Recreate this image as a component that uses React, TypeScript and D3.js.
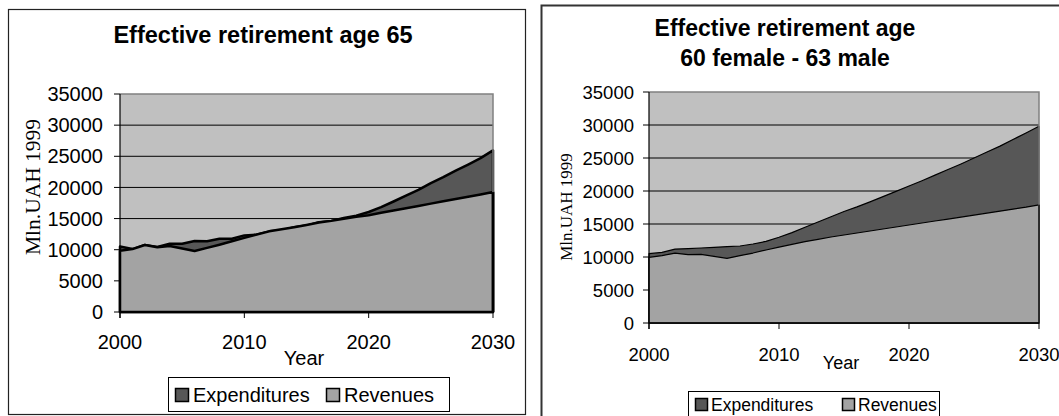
import React from "react";
import * as d3 from "d3";

// ---------- data ----------
const years = [2000, 2001, 2002, 2003, 2004, 2005, 2006, 2007, 2008, 2009, 2010, 2011, 2012, 2013, 2014, 2015, 2016, 2017, 2018, 2019, 2020, 2021, 2022, 2023, 2024, 2025, 2026, 2027, 2028, 2029, 2030];

const expendituresA = [10500, 10100, 10750, 10450, 10950, 10970, 11400, 11350, 11770, 11770, 12300, 12400, 12950, 13100, 13600, 13870, 14400, 14630, 15090, 15470, 16050, 16830, 17740, 18700, 19610, 20680, 21640, 22710, 23680, 24700, 25950];
const revenuesA = [9850, 10100, 10750, 10400, 10600, 10200, 9800, 10290, 10800, 11350, 11900, 12450, 12950, 13300, 13600, 13980, 14370, 14630, 14960, 15280, 15550, 15920, 16290, 16660, 17030, 17400, 17770, 18140, 18510, 18880, 19250];

const expendituresB = [10500, 10700, 11200, 11260, 11360, 11460, 11560, 11670, 11970, 12370, 13000, 13700, 14500, 15300, 16100, 16900, 17600, 18350, 19150, 19950, 20750, 21550, 22400, 23250, 24100, 25000, 25900, 26800, 27800, 28800, 29800];
const revenuesB = [9950, 10200, 10600, 10350, 10400, 10100, 9800, 10200, 10600, 11060, 11500, 11920, 12320, 12680, 13030, 13330, 13640, 13940, 14240, 14550, 14850, 15150, 15450, 15750, 16050, 16350, 16650, 16950, 17250, 17550, 17900];

const yTicks = [0, 5000, 10000, 15000, 20000, 25000, 30000, 35000];
const xTicks = [2000, 2010, 2020, 2030];
const seriesNames = ["Expenditures", "Revenues"];
const titleA = ["Effective retirement age 65"];
const titleB = ["Effective retirement age", "60 female - 63 male"];
const yLabel = "Mln.UAH 1999";
const xLabel = "Year";

// ---------- styles ----------
const SANS = "'Liberation Sans', Arial, sans-serif";
const SERIF = "'Liberation Serif', 'Times New Roman', serif";
const C_BG = "#c0c0c0";
const C_EXP = "#575757";
const C_REV = "#a3a3a3";

type Layout = {
  box: [number, number, number, number];
  plot: { l: number; r: number; t: number; b: number };
  titleX: number;
  titleY: number[];
  titleSize: number;
  tickSize: number;
  tickLabelX: number;
  xLabelBaseline: number;
  yLab: { x: number; y: number; size: number };
  xLab: { x: number; y: number; size: number };
  legend: { x: number; y: number; w: number; h: number; size: number; sq: number; items: number[]; baseline: number; gap: number };
  lineW: number;
  boxStroke: string;
  boxW: number;
};

const layoutA: Layout = {
  box: [8.5, 9.5, 517, 405],
  plot: { l: 120, r: 493, t: 94, b: 312 },
  titleX: 263,
  titleY: [43],
  titleSize: 23.5,
  tickSize: 20,
  tickLabelX: 103,
  xLabelBaseline: 349,
  yLab: { x: 32, y: 187, size: 21.5 },
  xLab: { x: 304, y: 365, size: 20 },
  legend: { x: 168.5, y: 377.5, w: 281, h: 34, size: 20, sq: 13, items: [175, 326], baseline: 402, gap: 5 },
  lineW: 2.5,
  boxStroke: "#222",
  boxW: 1.2,
};

const layoutB: Layout = {
  box: [541.5, 5.5, 530, 420],
  plot: { l: 649, r: 1039, t: 92, b: 323 },
  titleX: 785,
  titleY: [36, 66],
  titleSize: 23,
  tickSize: 18.5,
  tickLabelX: 634,
  xLabelBaseline: 361,
  yLab: { x: 566, y: 207, size: 17 },
  xLab: { x: 841, y: 369, size: 18 },
  legend: { x: 688.5, y: 391.5, w: 251, h: 34, size: 17.5, sq: 12, items: [695, 842], baseline: 411, gap: 4 },
  lineW: 1.2,
  boxStroke: "#333",
  boxW: 2,
};

function Panel({ L, exp, rev, title }: { L: Layout; exp: number[]; rev: number[]; title: string[] }) {
  const { plot } = L;
  const x = d3.scaleLinear().domain([2000, 2030]).range([plot.l, plot.r]);
  const y = d3.scaleLinear().domain([0, 35000]).range([plot.b, plot.t]);
  const area = d3
    .area<number>()
    .x((_, i) => x(years[i]))
    .y0(y(0))
    .y1((d) => y(d));
  const colors = [C_EXP, C_REV];
  return (
    <g>
      <rect x={L.box[0]} y={L.box[1]} width={L.box[2]} height={L.box[3]} fill="#fff" stroke={L.boxStroke} strokeWidth={L.boxW} />
      {title.map((t, i) => (
        <text key={i} x={L.titleX} y={L.titleY[i]} textAnchor="middle" fontFamily={SANS} fontWeight="bold" fontSize={L.titleSize} fill="#000">
          {t}
        </text>
      ))}
      <rect x={plot.l} y={plot.t} width={plot.r - plot.l} height={plot.b - plot.t} fill={C_BG} />
      {yTicks.slice(1, -1).map((v) => (
        <line key={v} x1={plot.l} x2={plot.r} y1={y(v)} y2={y(v)} stroke="#000" strokeWidth={1} />
      ))}
      <path d={area(exp) || ""} fill={C_EXP} stroke="#000" strokeWidth={L.lineW} strokeLinejoin="round" />
      <path d={area(rev) || ""} fill={C_REV} stroke="#000" strokeWidth={L.lineW} strokeLinejoin="round" />
      <polyline points={`${plot.l},${plot.t} ${plot.r},${plot.t} ${plot.r},${plot.b}`} fill="none" stroke="#808080" strokeWidth={1.5} />
      <line x1={plot.r} x2={plot.r} y1={y(rev[rev.length - 1])} y2={plot.b} stroke="#000" strokeWidth={L.lineW} />
      <line x1={plot.l} x2={plot.l} y1={plot.t} y2={plot.b + 6} stroke="#000" strokeWidth={1.2} />
      <line x1={plot.l} x2={plot.r} y1={plot.b} y2={plot.b} stroke="#000" strokeWidth={1.5} />
      {yTicks.map((v) => (
        <g key={v}>
          <line x1={plot.l - 6} x2={plot.l} y1={y(v)} y2={y(v)} stroke="#000" strokeWidth={1} />
          <text x={L.tickLabelX} y={y(v)} dy="0.36em" textAnchor="end" fontFamily={SANS} fontSize={L.tickSize} fill="#000">
            {v}
          </text>
        </g>
      ))}
      {xTicks.map((v) => (
        <g key={v}>
          <line x1={x(v)} x2={x(v)} y1={plot.b} y2={plot.b + 6} stroke="#000" strokeWidth={1} />
          <text x={x(v)} y={L.xLabelBaseline} textAnchor="middle" fontFamily={SANS} fontSize={L.tickSize} fill="#000">
            {v}
          </text>
        </g>
      ))}
      <text transform={`translate(${L.yLab.x},${L.yLab.y}) rotate(-90)`} textAnchor="middle" dy="0.35em" fontFamily={SERIF} fontSize={L.yLab.size} fill="#000">
        {yLabel}
      </text>
      <text x={L.xLab.x} y={L.xLab.y} textAnchor="middle" fontFamily={SANS} fontSize={L.xLab.size} fill="#000">
        {xLabel}
      </text>
      <rect x={L.legend.x} y={L.legend.y} width={L.legend.w} height={L.legend.h} fill="#fff" stroke="#000" strokeWidth={1} />
      {seriesNames.map((name, i) => (
        <g key={name}>
          <rect
            x={L.legend.items[i] + 0.5}
            y={L.legend.baseline - L.legend.sq - 0.5}
            width={L.legend.sq}
            height={L.legend.sq}
            fill={colors[i]}
            stroke="#000"
            strokeWidth={1.5}
          />
          <text x={L.legend.items[i] + L.legend.sq + L.legend.gap} y={L.legend.baseline} fontFamily={SANS} fontSize={L.legend.size} fill="#000">
            {name}
          </text>
        </g>
      ))}
    </g>
  );
}

export default function App() {
  return (
    <svg width={1059} height={416} style={{ position: "absolute", left: 0, top: 0, background: "#fff" }}>
      <Panel L={layoutA} exp={expendituresA} rev={revenuesA} title={titleA} />
      <Panel L={layoutB} exp={expendituresB} rev={revenuesB} title={titleB} />
    </svg>
  );
}
